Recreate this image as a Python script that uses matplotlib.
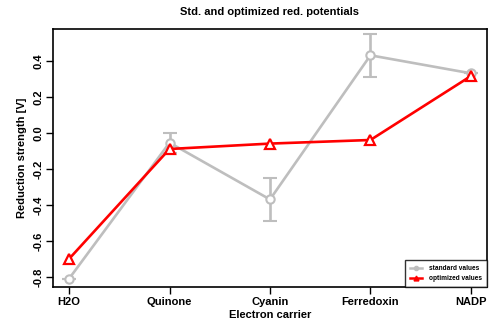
import numpy as np
import matplotlib
matplotlib.use('Agg')
import matplotlib.pyplot as plt

# electron carriers along the transport chain
carriers = ['H2O', 'Quinone', 'Cyanin', 'Ferredoxin', 'NADP']
# reduction strength [V] (negative of standard potential)
standard = [-0.81, -0.055, -0.37, 0.43, 0.33]
standard_err = [0.0, 0.055, 0.12, 0.12, 0.0]
optimized = [-0.70, -0.09, -0.06, -0.04, 0.315]

plt.rcParams['font.family'] = ['Liberation Sans', 'DejaVu Sans']
plt.rcParams['font.weight'] = 'bold'

GREY = '#bebebe'
RED = '#ff0000'


def run_plot():
    x = np.arange(len(carriers))
    fig = plt.figure(figsize=(4.92, 3.27), dpi=100)
    ax = fig.add_axes([0.1077, 0.1223, 0.8821, 0.789])

    ax.errorbar(x, standard, yerr=standard_err, color=GREY, lw=1.9,
                marker='o', ms=6, mfc='white', mec=GREY, mew=1.5,
                capsize=5, capthick=1.9, elinewidth=1.9,
                label='standard values', zorder=2)
    ax.plot(x, optimized, color=RED, lw=1.9, marker='^', ms=7,
            mfc='white', mec=RED, mew=1.6, label='optimized values', zorder=3)

    ax.set_xlim(-0.16, 4.16)
    ax.set_ylim(-0.856, 0.576)
    ax.set_xticks(x)
    ax.set_xticklabels(carriers, fontsize=8, fontweight='bold')
    yt = [-0.8, -0.6, -0.4, -0.2, 0.0, 0.2, 0.4]
    ax.set_yticks(yt)
    ax.set_yticklabels(['%.1f' % v for v in yt], fontsize=8,
                       fontweight='bold', rotation=90, va='center')
    ax.tick_params(direction='out', length=5, width=1)
    ax.tick_params(axis='x', pad=2)
    ax.tick_params(axis='y', pad=1.5)
    for s in ax.spines.values():
        s.set_linewidth(1.2)

    ax.set_xlabel('Electron carrier', fontsize=8, fontweight='bold', labelpad=2)
    ax.set_ylabel('Reduction strength [V]', fontsize=8, fontweight='bold',
                  labelpad=5)
    ax.set_title('Std. and optimized red. potentials', fontsize=8,
                 fontweight='bold', pad=10)

    handles = [
        plt.Line2D([], [], color=GREY, lw=1.8, marker='o', ms=3),
        plt.Line2D([], [], color=RED, lw=1.8, marker='^', ms=3.5),
    ]
    leg = ax.legend(handles, ['standard values', 'optimized values'],
                    loc='lower right', fontsize=4.7, frameon=True, fancybox=False,
                    borderaxespad=0, handlelength=1.9, handletextpad=1.0,
                    borderpad=0.8, labelspacing=0.4, edgecolor='black')
    leg.get_frame().set_linewidth(1.0)

    fig.savefig('out.png', dpi=100)
    plt.close(fig)


if __name__ == '__main__':
    run_plot()
